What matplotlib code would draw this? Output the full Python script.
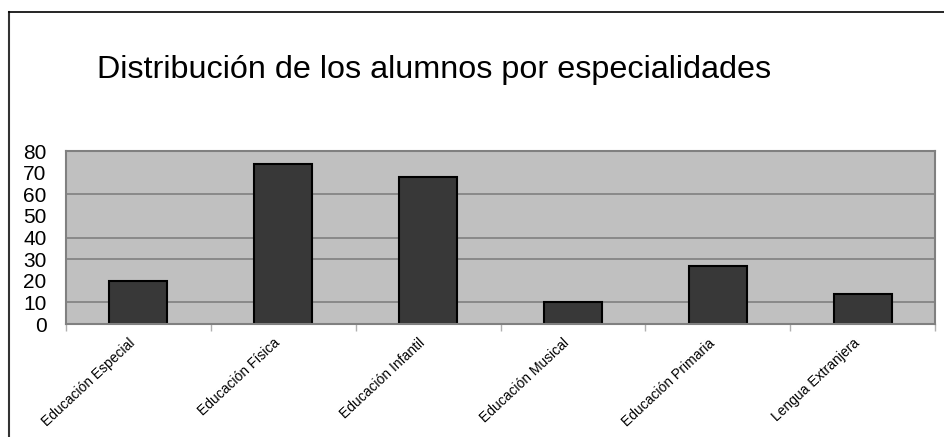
import numpy as np
import matplotlib.pyplot as plt
from matplotlib.lines import Line2D

plt.rcParams['font.family'] = ['Liberation Sans', 'DejaVu Sans']

categorias = ["Educación Especial", "Educación Física", "Educación Infantil",
              "Educación Musical", "Educación Primaria", "Lengua Extranjera"]
alumnos = [20, 74, 68, 10, 27, 14]
yticks = [0, 10, 20, 30, 40, 50, 60, 70, 80]
grid_y = [10, 30, 40, 60]  # only these lines show in the original

fig = plt.figure(figsize=(9.44, 4.37), dpi=100)
ax = fig.add_axes([66/944, 1-324/437, (935-66)/944, (324-151)/437])

x = np.arange(len(categorias))
ax.set_facecolor("#c0c0c0")
for g in grid_y:
    ax.axhline(g, color="#808080", lw=1.2, zorder=1)
ax.bar(x, alumnos, width=0.4, color="#383838", edgecolor="black", lw=1.5, zorder=2)

ax.set_xlim(-0.5, len(categorias)-0.5)
ax.set_ylim(0, 80)
ax.set_yticks(yticks)
ax.set_yticklabels([str(v) for v in yticks], fontsize=15)
ax.tick_params(axis='y', length=0, pad=14)

# category ticks sit on the boundaries, labels at bar centres
ax.set_xticks(np.arange(len(categorias)+1)-0.5)
ax.set_xticklabels([])
ax.tick_params(axis='x', length=5, color="#b0b0b0", width=1)
for i, c in enumerate(categorias):
    ax.text(i - 0.07, -5.5, c, rotation=43, ha='right', va='top', rotation_mode='anchor',
            fontsize=10, transform=ax.transData)

for s in ax.spines.values():
    s.set_color("#808080")
    s.set_linewidth(1.5)

fig.text(97/944, 1-78/437, "Distribución de los alumnos por especialidades",
         fontsize=23.3, ha='left', va='baseline')

# outer frame: only top and left edges visible
fig.add_artist(Line2D([8.5/944, 8.5/944], [0, 1-11.5/437], color="#333333", lw=1.5,
                      transform=fig.transFigure))
fig.add_artist(Line2D([8.5/944, 1], [1-11.5/437, 1-11.5/437], color="black", lw=1.2,
                      transform=fig.transFigure))

fig.savefig("out.png", dpi=100)
